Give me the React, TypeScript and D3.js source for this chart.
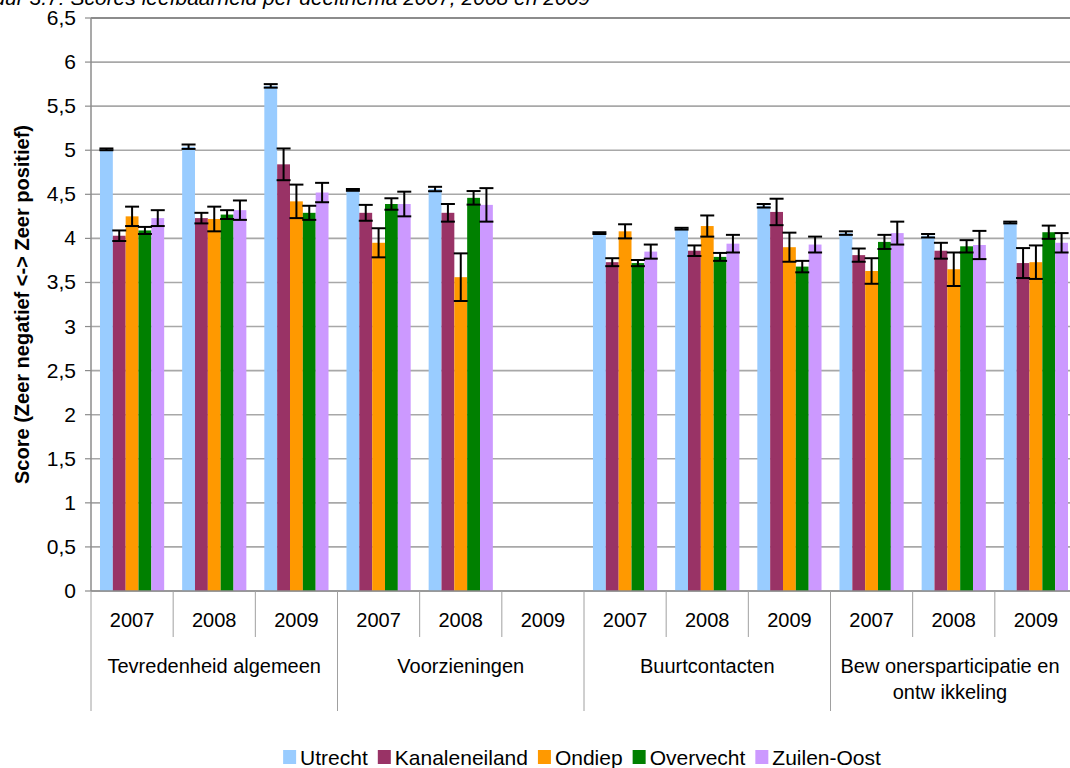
import * as d3 from "d3";

const series = ["Utrecht", "Kanaleneiland", "Ondiep", "Overvecht", "Zuilen-Oost"];
const colors = ["#99ccff", "#993366", "#ff9900", "#008000", "#cc99ff"];
const years = ["2007", "2008", "2009"];
const themes = [
  ["Tevredenheid algemeen"],
  ["Voorzieningen"],
  ["Buurtcontacten"],
  ["Bew onersparticipatie en", "ontw ikkeling"],
];

// 12 slots: 4 themes x 3 years (Voorzieningen 2009 has no data)
const utrecht = [5.01, 5.04, 5.73, 4.55, 4.56, null, 4.06, 4.11, 4.37, 4.06, 4.03, 4.18];
const utrechtErr = [0.01, 0.025, 0.02, 0.01, 0.025, null, 0.01, 0.01, 0.02, 0.02, 0.02, 0.01];
const kanaleneiland = [4.03, 4.23, 4.84, 4.29, 4.29, null, 3.73, 3.86, 4.3, 3.81, 3.86, 3.72];
const kanaleneilandErr = [0.06, 0.06, 0.18, 0.09, 0.1, null, 0.045, 0.06, 0.15, 0.075, 0.09, 0.17];
const ondiep = [4.25, 4.22, 4.42, 3.95, 3.56, null, 4.08, 4.14, 3.9, 3.63, 3.65, 3.73];
const ondiepErr = [0.11, 0.14, 0.19, 0.165, 0.27, null, 0.08, 0.12, 0.165, 0.145, 0.19, 0.19];
const overvecht = [4.09, 4.27, 4.29, 4.39, 4.46, null, 3.72, 3.79, 3.68, 3.96, 3.91, 4.07];
const overvechtErr = [0.04, 0.05, 0.08, 0.065, 0.077, null, 0.035, 0.045, 0.065, 0.08, 0.07, 0.075];
const zuilenOost = [4.23, 4.32, 4.52, 4.39, 4.38, null, 3.85, 3.94, 3.93, 4.06, 3.925, 3.95];
const zuilenOostErr = [0.09, 0.11, 0.11, 0.14, 0.19, null, 0.08, 0.1, 0.09, 0.13, 0.16, 0.11];

const values = [utrecht, kanaleneiland, ondiep, overvecht, zuilenOost];
const errors = [utrechtErr, kanaleneilandErr, ondiepErr, overvechtErr, zuilenOostErr];
const yTicks = d3.range(0, 6.51, 0.5);

const width = 1070;
const height = 768;
const font = "Arial, 'Liberation Sans', sans-serif";

function measure(text: string, size: number) {
  const ctx = document.createElement("canvas").getContext("2d")!;
  ctx.font = `${size}px Arial, 'Liberation Sans', sans-serif`;
  return ctx.measureText(text).width;
}

const App = () => {
  const left = 91;
  const right = 1077;
  const top = 18;
  const bottom = 591;
  const fs = 20;

  const slots = d3.range(themes.length * years.length).map(String);
  const x = d3.scaleBand().domain(slots).range([left, right]).padding(0);
  const xi = d3
    .scaleBand()
    .domain(series)
    .range([0, x.bandwidth()])
    .paddingInner(0)
    .paddingOuter(0.7);
  const y = d3.scaleLinear().domain([0, 6.5]).range([bottom, top]);
  const fmt = (v: number) => String(v).replace(".", ",");

  // legend layout
  const sq = 13;
  const legendFs = 21;
  const items = series.map((s) => sq + 4 + measure(s, legendFs) + 10);
  const totalLegend = d3.sum(items) - 10;
  let lx = 582 - totalLegend / 2;
  const legendPos = items.map((w) => {
    const p = lx;
    lx += w;
    return p;
  });

  return (
    <svg
      width={width}
      height={height}
      style={{ position: "fixed", left: 0, top: 0, background: "white" }}
      fontFamily={font}
    >
      {/* caption, cropped at the top edge like the source */}
      <text x={590} y={5} textAnchor="end" fontSize={21} fontStyle="italic" fill="#000">
        Figuur 3.7: Scores leefbaarheid per deelthema 2007, 2008 en 2009
      </text>

      {/* gridlines */}
      {yTicks.map((t) => (
        <line
          key={t}
          x1={left}
          x2={width}
          y1={y(t)}
          y2={y(t)}
          stroke={t === 6.5 ? "#8c8c8c" : "#a8a8a8"}
          strokeWidth={t === 6.5 ? 2 : 1.6}
        />
      ))}

      {/* y axis */}
      <line x1={left} x2={left} y1={top} y2={bottom} stroke="#8c8c8c" strokeWidth={1.5} />
      {yTicks.map((t) => (
        <g key={t}>
          <line x1={left - 6} x2={left} y1={y(t)} y2={y(t)} stroke="#8c8c8c" strokeWidth={1.2} />
          <text x={76} y={y(t) + 7} textAnchor="end" fontSize={21} fill="#000">
            {fmt(t)}
          </text>
        </g>
      ))}
      <text
        transform={`translate(29, ${(top + bottom) / 2}) rotate(-90)`}
        textAnchor="middle"
        fontSize={20}
        fontWeight="bold"
        fill="#000"
      >
        Score (Zeer negatief &lt;-&gt; Zeer positief)
      </text>

      {/* bars */}
      {series.map((s, si) =>
        values[si].map((v, i) =>
          v == null ? null : (
            <rect
              key={`${s}-${i}`}
              x={x(String(i))! + xi(s)!}
              y={y(v)}
              width={xi.bandwidth()}
              height={y(0) - y(v)}
              fill={colors[si]}
            />
          )
        )
      )}

      {/* error bars */}
      {series.map((s, si) =>
        values[si].map((v, i) => {
          const e = errors[si][i];
          if (v == null || e == null) return null;
          const cx = x(String(i))! + xi(s)! + xi.bandwidth() / 2;
          return (
            <g key={`e-${s}-${i}`} stroke="#000" strokeWidth={2}>
              <line x1={cx} x2={cx} y1={y(v - e)} y2={y(v + e)} />
              <line x1={cx - 7} x2={cx + 7} y1={y(v - e)} y2={y(v - e)} />
              <line x1={cx - 7} x2={cx + 7} y1={y(v + e)} y2={y(v + e)} />
            </g>
          );
        })
      )}

      {/* x axis */}
      <line x1={left} x2={width} y1={bottom} y2={bottom} stroke="#8c8c8c" strokeWidth={1.5} />
      {slots.map((sl, i) => (
        <g key={sl}>
          {i % 3 !== 0 && (
            <line
              x1={x(sl)!}
              x2={x(sl)!}
              y1={bottom}
              y2={637}
              stroke="#a0a0a0"
              strokeWidth={1}
            />
          )}
          <text
            x={x(sl)! + x.bandwidth() / 2}
            y={627}
            textAnchor="middle"
            fontSize={fs}
            fill="#000"
          >
            {years[i % 3]}
          </text>
        </g>
      ))}
      {themes.map((lines, ti) => {
        const x0 = x(String(ti * 3))!;
        const cx = x0 + (x.bandwidth() * 3) / 2;
        return (
          <g key={ti}>
            <line x1={x0} x2={x0} y1={bottom} y2={711} stroke="#a0a0a0" strokeWidth={1} />
            {lines.map((l, li) => (
              <text
                key={li}
                x={ti === 3 ? 950 : cx}
                y={673 + li * 26}
                textAnchor="middle"
                fontSize={fs}
                fill="#000"
              >
                {l}
              </text>
            ))}
          </g>
        );
      })}

      {/* legend */}
      {series.map((s, si) => (
        <g key={s} transform={`translate(${legendPos[si]}, 750)`}>
          <rect width={sq} height={14} fill={colors[si]} />
          <text x={sq + 4} y={14.5} fontSize={legendFs} fill="#000">
            {s}
          </text>
        </g>
      ))}
    </svg>
  );
};

export default App;
